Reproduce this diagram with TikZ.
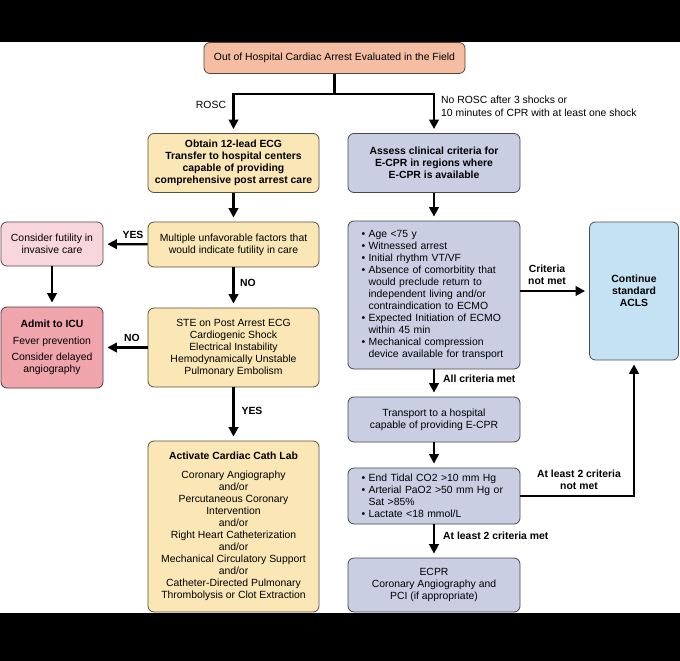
\documentclass[tikz,border=0pt]{standalone}
\usepackage{fontspec}
\setmainfont{Liberation Sans}
\usetikzlibrary{arrows.meta}
\definecolor{salmon}{HTML}{F5BEA3}
\definecolor{pale}{HTML}{FBE6B6}
\definecolor{slate}{HTML}{C9CEE3}
\definecolor{pinkl}{HTML}{F9D6DB}
\definecolor{pinkd}{HTML}{F0A5AD}
\definecolor{skyb}{HTML}{C4E2F4}
\newcommand{\fs}{\fontsize{10.4}{12}\selectfont}
\begin{document}
\begin{tikzpicture}[x=1pt,y=-1pt,
  box/.style={rounded corners=6pt, line width=0.8pt, align=center, inner sep=0pt, font=\fs},
  ybox/.style={box, fill=pale, draw=pale!35!black},
  bbox/.style={box, fill=slate, draw=slate!35!black},
  lbl/.style={font=\fs, inner sep=0pt},
  blbl/.style={font=\fs\bfseries, inner sep=0pt, align=center},
  conn/.style={line width=2.3pt},
  arr/.style={line width=2.3pt, -{Triangle[width=9.5pt,length=9.5pt]}, shorten >=4pt}
]
\useasboundingbox (0,0) rectangle (680,661);
\fill[white] (0,0) rectangle (680,661);

% boxes
\node[box, fill=salmon, draw=salmon!35!black, minimum width=261pt, minimum height=31pt] (top) at (334.5,58)
  {Out of Hospital Cardiac Arrest Evaluated in the Field};
\node[ybox, font=\fs\bfseries, minimum width=171pt, minimum height=59pt] (ecg) at (233.5,163)
  {Obtain 12-lead ECG\\Transfer to hospital centers\\capable of providing\\comprehensive post arrest care};
\node[bbox, font=\fs\bfseries, minimum width=172pt, minimum height=59pt] (assess) at (434,163)
  {Assess clinical criteria for\\E-CPR in regions where\\E-CPR is available};
\node[ybox, minimum width=171pt, minimum height=45pt] (mult) at (233.5,244.5)
  {Multiple unfavorable factors that\\would indicate futility in care};
\node[box, fill=pinkl, draw=pinkl!35!black, minimum width=102pt, minimum height=44pt] (futil) at (52,244)
  {Consider futility in\\invasive care};
\node[ybox, minimum width=171pt, minimum height=79pt] (ste) at (233.5,347.5)
  {STE on Post Arrest ECG\\Cardiogenic Shock\\Electrical Instability\\Hemodynamically Unstable\\Pulmonary Embolism};
\node[box, fill=pinkd, draw=pinkd!35!black, minimum width=102pt, minimum height=81pt] (admit) at (52,347.5)
  {\textbf{Admit to ICU}\\[5pt]Fever prevention\\[4pt]Consider delayed\\angiography};
\node[ybox, minimum width=171pt, minimum height=171pt] (cath) at (233.5,526.5)
  {\textbf{Activate Cardiac Cath Lab}\\[7pt]Coronary Angiography\\and/or\\Percutaneous Coronary\\Intervention\\and/or\\Right Heart Catheterization\\and/or\\Mechanical Circulatory Support\\and/or\\Catheter-Directed Pulmonary\\Thrombolysis or Clot Extraction};
\node[bbox, align=left, text width=145pt, minimum width=172pt, minimum height=148pt] (crit) at (434,295)
  {• Age <75 y\\
   • Witnessed arrest\\
   • Initial rhythm VT/VF\\
   • Absence of comorbitity that\\
   \hphantom{• }would preclude return to\\
   \hphantom{• }independent living and/or\\
   \hphantom{• }contraindication to ECMO\\
   • Expected Initiation of ECMO\\
   \hphantom{• }within 45 min\\
   • Mechanical compression\\
   \hphantom{• }device available for transport};
\node[box, fill=skyb, draw=skyb!35!black, font=\fs\bfseries, minimum width=89pt, minimum height=138pt] (acls) at (634,291)
  {Continue\\standard\\ACLS};
\node[bbox, minimum width=172pt, minimum height=45pt] (transport) at (434,419.5)
  {Transport to a hospital\\capable of providing E-CPR};
\node[bbox, align=left, text width=145pt, minimum width=172pt, minimum height=56pt] (etco) at (434,496)
  {• End Tidal CO2 >10 mm Hg\\
   • Arterial PaO2 >50 mm Hg or\\
   \hphantom{• }Sat >85\%\\
   • Lactate <18 mmol/L};
\node[bbox, minimum width=172pt, minimum height=54pt] (ecpr) at (434,585)
  {ECPR\\Coronary Angiography and\\PCI (if appropriate)};

% connectors
\coordinate (split) at (334.5,94);
\draw[conn] (top.south) -- (split);
\draw[arr] (split) -| (ecg.north);
\draw[arr] (split) -| (assess.north);
\draw[arr] (ecg) -- (mult);
\draw[arr] (mult) -- (futil);
\draw[arr] (futil) -- (admit);
\draw[arr] (mult) -- (ste);
\draw[arr] (ste) -- (admit);
\draw[arr] (ste) -- (cath);
\draw[arr] (assess) -- (crit);
\draw[arr] (crit.east |- acls.west) -- (acls.west);
\draw[arr] (crit) -- (transport);
\draw[arr] (transport) -- (etco);
\draw[arr] (etco) -- (ecpr);
\draw[arr] (etco.east) -| (acls.south);

% labels
\node[lbl] (lrosc) at (211,105) {ROSC};
\node[lbl, anchor=west, align=left, font=\fontsize{10.4}{13}\selectfont] (lnorosc) at (441,106.5)
  {No ROSC after 3 shocks or\\10 minutes of CPR with at least one shock};
\node[blbl] (lyes1) at (133,235) {YES};
\node[blbl] (lno1) at (248,283) {NO};
\node[blbl] (lno2) at (132,338) {NO};
\node[blbl] (lyes2) at (252,411) {YES};
\node[blbl] (lcrit) at (547,275) {Criteria\\not met};
\node[blbl, anchor=west] (lall) at (443,379) {All criteria met};
\node[blbl] (lnot2) at (579,480) {At least 2 criteria\\not met};
\node[blbl, anchor=west] (lmet2) at (443,536) {At least 2 criteria met};

% black bands
\fill[black] (0,0) rectangle (680,42);
\fill[black] (0,613) rectangle (680,661);
\end{tikzpicture}
\end{document}
